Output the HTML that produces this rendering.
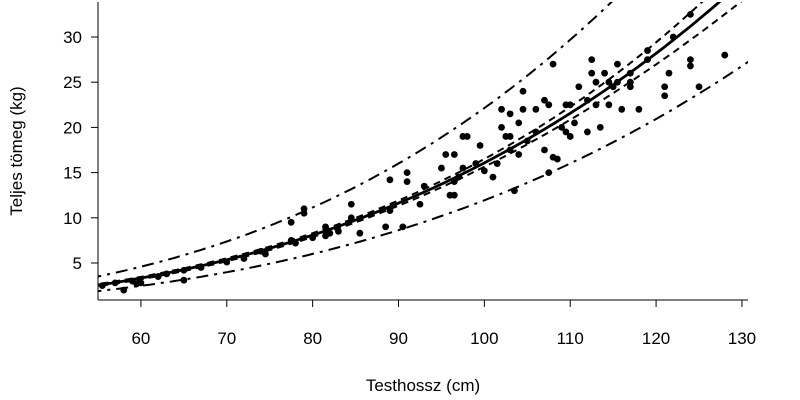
<!DOCTYPE html>
<html><head><meta charset="utf-8"><style>
body{margin:0;background:#fff}
svg{display:block;font-family:"Liberation Sans",sans-serif}
</style></head><body>
<svg id="c" width="800" height="400">
<defs><clipPath id="clip"><rect x="98" y="2" width="650" height="298"/></clipPath></defs>
<g id="axes"></g>
<g id="curves" clip-path="url(#clip)"></g>
<g id="pts"></g>
<text x="423" y="391" font-size="17" text-anchor="middle">Testhossz (cm)</text>
<text transform="translate(22,151) rotate(-90)" font-size="17" text-anchor="middle">Teljes tömeg (kg)</text>
</svg>
<script>
const xTicks=[60,70,80,90,100,110,120,130];
const yTicks=[5,10,15,20,25,30];
const px=[55.5,57,58,59,59.5,60,62,63,65,65,67,70,72,74,74.5,77.5,77.5,78,79,79,80,81.5,81.5,82,83,84.5,84.5,85.5,88.5,89,89,90.5,91,91,92.5,93,95,95.5,96,96.5,96.5,96.5,97,97.5,97.5,98,99,99.5,100,101,101.5,102,102,102.5,103,103,103,103.5,104,104,104.5,104.5,105,106,106,107,107,107.5,107.5,108,108,108.5,109,109.5,109.5,110,110,110.5,111,112,112,112.5,112.5,113,113,113.5,114,114.5,114.5,115,115.5,115.5,116,117,117,117,118,119,119,121,121,121.5,122,124,124,124,125,128];
const py=[2.5,2.8,2,3,2.7,2.8,3.5,3.8,4.2,3.1,4.5,5.1,5.5,6.3,6,7.5,9.5,7.2,10.5,11,7.8,8,9,8.3,8.5,11.5,10,8.3,9,10.8,14.2,9,14,15,11.5,13.5,15.5,17,12.5,14,12.5,17,14.5,15.5,19,19,16,18,15.2,14.5,16,20,22,19,19,21.5,17.5,13,17,20.5,24,22,18.5,19.5,22,17.5,23,15,22.5,27,16.7,16.5,20,22.5,19.5,22.5,19,20.5,24.5,23,19.5,26,27.5,22.5,25,20,26,25,22.5,24.5,27,25,22,25,24.5,26,22,28.5,27.5,24.5,23.5,26,30,32.5,27.5,26.8,24.5,28];
const fitA=2.55, fitX0=55, fitB=3.08;
const ciFactor=[0.045,0.025,0.05];
const piFactor=0.32;
const X=v=>98+(v-55)*8.586, Y=v=>308.2-v*9.04;
const NS='http://www.w3.org/2000/svg';
function mk(t,a,p){const e=document.createElementNS(NS,t);for(const k in a)e.setAttribute(k,a[k]);p.appendChild(e);return e;}
const ax=document.getElementById('axes');
let l=mk('line',{x1:98,y1:300,x2:748,y2:300,stroke:'#000'},ax);


l=mk('line',{x1:98,y1:2,x2:98,y2:300,stroke:'#000'},ax);


xTicks.forEach(v=>{const x=X(v);mk('line',{x1:x,y1:300,x2:x,y2:307,stroke:'#000'},ax);
const t=mk('text',{x:x,y:344,'font-size':17,'text-anchor':'middle'},ax);t.textContent=v;

});
yTicks.forEach(v=>{const y=Y(v);mk('line',{x1:91,y1:y,x2:98,y2:y,stroke:'#000'},ax);
const t=mk('text',{x:82,y:y+6,'font-size':17,'text-anchor':'end'},ax);t.textContent=v;

});
const cv=document.getElementById('curves');
const f=x=>fitA*Math.pow(x/fitX0,fitB);
function curve(mult,dash,w,name){let d='';for(let x=54;x<=132;x+=0.5){const m=typeof mult==='function'?mult(x):mult;d+=(d?'L':'M')+X(x).toFixed(1)+','+Y(f(x)*m).toFixed(1);}
const p=mk('path',{d:d,fill:'none',stroke:'#000','stroke-width':w},cv);if(dash)p.setAttribute('stroke-dasharray',dash);

}
const ci=x=>{const c=90;const t=(x-c)/35;return ciFactor[1]+ (t<0?ciFactor[0]-ciFactor[1]:ciFactor[2]-ciFactor[1])*t*t;};
curve(1,null,2.8,'fit-line');
curve(x=>1+ci(x),'7,5',2,'ci-upper');
curve(x=>1-ci(x),'7,5',2,'ci-lower');
curve(Math.exp(piFactor),'12,6,3,6',2,'pi-upper');
curve(Math.exp(-piFactor*0.93),'12,6,3,6',2,'pi-lower');
const pg=document.getElementById('pts');
px.forEach((v,i)=>{const c=mk('circle',{cx:X(v),cy:Y(py[i]),r:3.4,fill:'#000'},pg);

});
</script>
</body></html>
